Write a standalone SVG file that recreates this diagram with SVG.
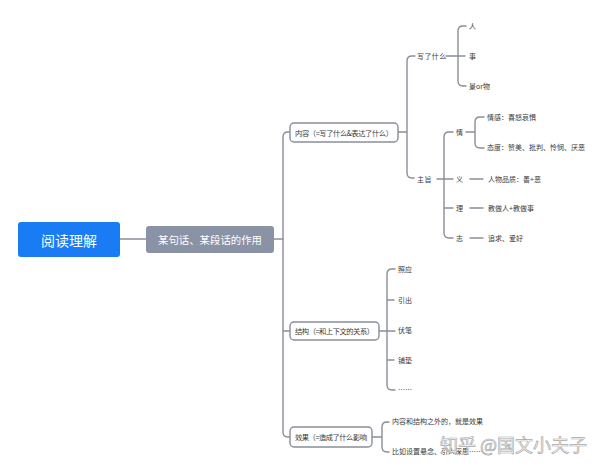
<svg xmlns="http://www.w3.org/2000/svg" width="600" height="470" viewBox="0 0 600 470">
<style>
.ln{fill:none;stroke:#8a8e99;stroke-width:1.4;stroke-linecap:round}
.t{font-family:"Noto Sans CJK SC","Noto Sans",sans-serif;fill:#3a3a3a;font-size:7px;dominant-baseline:central}
.box{fill:#ffffff;stroke:#8a8e99;stroke-width:1.4}
</style>
<rect width="600" height="470" fill="#ffffff"/>
<g id="connectors">
<path class="ln" d="M120,239 H146"/>
<path class="ln" d="M274,239 H283"/>
<path class="ln" d="M290,132 H288 Q283,132 283,137 V432 Q283,437 288,437 H290 M283,331 H290"/>
<path class="ln" d="M398,132 H407 M415,56 H412 Q407,56 407,61 V173 Q407,178 412,178 H414"/>
<path class="ln" d="M446,56 H465 M466,26 H463 Q458,26 458,31 V81 Q458,86 463,86 H466"/>
<path class="ln" d="M437,179 H453 M453,132 H449 Q444,132 444,137 V233 Q444,238 449,238 H453 M444,208 H453"/>
<path class="ln" d="M466,132 H475 M484,117 H480 Q475,117 475,122 V143 Q475,148 480,148 H484"/>
<path class="ln" d="M470,179 H483 M470,208 H483 M470,238 H483"/>
<path class="ln" d="M379,331 H395 M395,269 H392 Q387,269 387,274 V385 Q387,390 392,390 H395 M387,300 H394 M387,360 H394"/>
<path class="ln" d="M372,437 H382 M389,422 H387 Q382,422 382,427 V447 Q382,452 387,452 H389"/>
</g>
<g id="root">
<rect x="18" y="222" width="102" height="35" rx="3" fill="#1a7cf5"/>
<text x="69" y="239.5" text-anchor="middle" font-family="Noto Sans CJK SC, sans-serif" font-size="14" fill="#ffffff" dominant-baseline="central">阅读理解</text>
</g>
<g id="sub">
<rect x="146" y="226" width="128" height="27" rx="3" fill="#8a93a6"/>
<text x="210" y="239.5" text-anchor="middle" font-family="Noto Sans CJK SC, sans-serif" font-size="10.4" fill="#ffffff" dominant-baseline="central">某句话、某段话的作用</text>
</g>
<g id="neirong">
<rect class="box" x="290" y="123" width="108" height="19" rx="4"/>
<text class="t" x="295" y="132.5" textLength="98" style="font-size:7.3px">内容（=写了什么&amp;表达了什么）</text>
</g>
<g id="jiegou">
<rect class="box" x="290" y="322" width="89" height="18" rx="4"/>
<text class="t" x="295" y="331" textLength="79" style="font-size:7.3px">结构（=和上下文的关系）</text>
</g>
<g id="xiaoguo">
<rect class="box" x="290" y="427" width="82" height="20" rx="4"/>
<text class="t" x="295" y="437" textLength="72" style="font-size:7.3px">效果（=造成了什么影响</text>
</g>
<g id="xiele"><text class="t" x="417" y="56" letter-spacing="0.4">写了什么</text></g>
<g id="ren"><text class="t" x="469" y="26">人</text></g>
<g id="shi"><text class="t" x="469" y="56">事</text></g>
<g id="jing"><text class="t" x="469" y="86">景or物</text></g>
<g id="zhuzhi"><text class="t" x="417" y="179" letter-spacing="0.4">主旨</text></g>
<g id="qing"><text class="t" x="456" y="132">情</text></g>
<g id="yi"><text class="t" x="456" y="179">义</text></g>
<g id="li"><text class="t" x="456" y="208">理</text></g>
<g id="zhi"><text class="t" x="456" y="238">志</text></g>
<g id="qinggan"><text class="t" x="487" y="117">情感：喜怒哀惧</text></g>
<g id="taidu"><text class="t" x="487" y="147">态度：赞美、批判、怜悯、厌恶</text></g>
<g id="pinzhi"><text class="t" x="488" y="179">人物品质：善+恶</text></g>
<g id="jiao"><text class="t" x="488" y="208">教做人+教做事</text></g>
<g id="zhuiqiu"><text class="t" x="488" y="238">追求、爱好</text></g>
<g id="zhaoying"><text class="t" x="398" y="269">照应</text></g>
<g id="yinchu"><text class="t" x="398" y="300">引出</text></g>
<g id="fubi"><text class="t" x="398" y="330">伏笔</text></g>
<g id="pudian"><text class="t" x="398" y="360">铺垫</text></g>
<g id="etc"><text class="t" x="398" y="389">……</text></g>
<g id="xg1"><text class="t" x="392" y="421">内容和结构之外的，就是效果</text></g>
<g id="xg2"><text class="t" x="392" y="451">比如设置悬念、引人深思……</text></g>
<text x="440" y="452" font-family="Noto Sans CJK SC, sans-serif" font-size="18" fill="#ffffff" stroke="#9a9a9a" stroke-width="0.7" opacity="0.85">知乎 @国文小夫子</text>
</svg>
